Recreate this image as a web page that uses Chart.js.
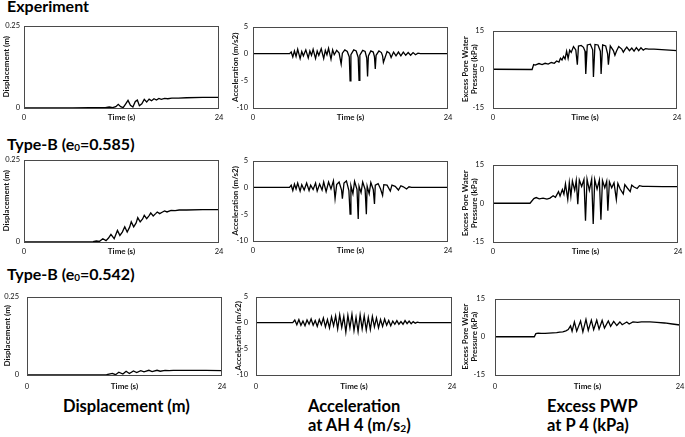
<!DOCTYPE html>
<html>
<head>
<meta charset="utf-8">
<script src="https://cdn.jsdelivr.net/npm/chart.js@4.4.1/dist/chart.umd.min.js"></script>
<style>
  html, body { margin: 0; padding: 0; background: #fff; }
  body { width: 685px; height: 437px; position: relative; overflow: hidden; font-family: Lato, "Open Sans", sans-serif; }
  canvas { position: absolute; }
  .lbl { position: absolute; font-weight: bold; color: #000; white-space: nowrap; }
  .row { font-size: 16px; line-height: 20px; left: 7px; }
  .col { font-size: 16.5px; line-height: 19px; }
  sub { font-size: 62%; vertical-align: -0.12em; line-height: 0; }
</style>
</head>
<body>
<div class="lbl row" style="top:-4px">Experiment</div>
<div class="lbl row" style="top:134px">Type-B (e<sub>0</sub>=0.585)</div>
<div class="lbl row" style="top:264px">Type-B (e<sub>0</sub>=0.542)</div>
<div class="lbl col" style="top:397px; left:63px">Displacement (m)</div>
<div class="lbl col" style="top:397px; left:308px">Acceleration<br>at AH 4 (m/s<sub>2</sub>)</div>
<div class="lbl col" style="top:397px; left:547px">Excess PWP<br>at P 4 (kPa)</div>

<script>
// tick values
var timeTicks = [0, 12, 24];
var dispTicks = [0, 0.25];
var accTicks = [-10, -5, 0, 5];
var pwpTicks = [-15, 0, 15];

// Experiment
var expDispTime = [0, 6, 8, 10, 10.5, 10.9, 11.3, 11.6, 11.9, 12.2, 12.5, 12.8, 13.1, 13.4, 13.7, 13.95, 14.2, 14.5, 14.8, 15.1, 15.4, 15.7, 16.0, 16.3, 16.6, 16.9, 17.3, 17.7, 18.2, 19, 20, 22, 24];
var expDisp = [0, 0, 0.001, 0.001, 0.003, 0.001, 0.004, 0.011, 0.004, 0.001, 0.012, 0.023, 0.008, 0.003, 0.020, 0.024, 0.007, 0.013, 0.026, 0.018, 0.027, 0.022, 0.028, 0.024, 0.029, 0.026, 0.029, 0.028, 0.030, 0.030, 0.031, 0.032, 0.032];

var expAccTime = [0, 4.5, 4.7, 4.9, 5.1, 5.3, 5.5, 5.8, 6.0, 6.2, 6.5, 6.8, 7.0, 7.2, 7.4, 7.7, 7.9, 8.1, 8.4, 8.7, 8.9, 9.1, 9.3, 9.6, 9.8, 10.0, 10.3, 10.6, 10.85, 11.0, 11.3, 11.6, 11.85, 11.95, 12.05, 12.4, 12.7, 12.95, 13.05, 13.15, 13.5, 13.8, 14.0, 14.1, 14.2, 14.5, 14.8, 14.95, 15.05, 15.15, 15.5, 15.8, 15.95, 16.05, 16.5, 16.8, 17.0, 17.3, 17.6, 17.9, 18.2, 18.5, 18.8, 19.1, 19.4, 19.7, 20.0, 20.3, 20.6, 24];
var expAcc = [0, 0, 0.3, -0.6, 0.5, -0.5, 0.8, -0.9, 0.4, -0.4, 0.7, -0.8, 0.5, -0.3, 0.8, -0.9, 0.5, -0.3, 0.9, -0.9, 0.6, -0.2, 1.0, -1.0, 0.7, -0.2, 0.6, 0.1, -1.9, 0.1, 0.7, 0.4, -0.6, -5.0, -0.2, 0.7, 0.5, -0.7, -4.9, -0.3, 0.6, 0.4, -0.8, -4.2, -0.4, 0.5, 0.3, -0.6, -2.8, -0.3, 0.5, 0.2, -0.4, -1.6, 0.4, 0.1, -0.7, 0.3, -0.4, 0.3, -0.4, 0.3, -0.3, 0.2, -0.3, 0.2, -0.2, 0.1, 0, 0];

var expPwpTime = [0, 5.1, 5.3, 5.5, 6.0, 6.4, 6.8, 7.2, 7.6, 8.0, 8.3, 8.6, 8.8, 9.0, 9.2, 9.4, 9.6, 9.8, 10.0, 10.2, 10.5, 10.8, 11.0, 11.15, 11.5, 11.8, 12.0, 12.1, 12.3, 12.7, 13.0, 13.1, 13.3, 13.7, 14.0, 14.1, 14.3, 14.7, 14.95, 15.05, 15.3, 15.7, 15.9, 16.1, 16.4, 16.8, 17.0, 17.2, 17.45, 17.8, 18.1, 18.4, 18.7, 19.0, 19.3, 19.6, 19.9, 20.3, 21, 22, 23, 24];
var expPwp = [0, -0.1, 1.8, 1.6, 2.2, 1.8, 2.3, 2.0, 2.6, 2.3, 3.2, 2.8, 4.3, 3.6, 5.0, 4.0, 7.0, 4.2, 7.4, 6.5, 8.8, 7.5, 1.8, 9.0, 9.2, 8.5, 7.0, -1.8, 9.4, 9.7, 7.5, -3.0, 9.6, 9.4, 7.0, -1.8, 9.4, 9.0, 6.0, 1.8, 9.0, 7.2, 5.4, 7.0, 8.8, 7.8, 6.6, 7.6, 8.6, 7.2, 8.2, 7.0, 8.4, 7.2, 8.3, 7.4, 8.0, 7.8, 7.8, 7.6, 7.4, 7.2];

// Type-B e0=0.585
var b585DispTime = [0, 7.5, 8.5, 8.9, 9.3, 9.7, 10.1, 10.4, 10.7, 11.1, 11.5, 11.8, 12.1, 12.4, 12.7, 13.0, 13.2, 13.5, 13.8, 14.0, 14.3, 14.6, 14.8, 15.1, 15.4, 15.6, 15.9, 16.2, 16.4, 16.7, 17.0, 17.3, 17.6, 18.1, 18.6, 19.1, 20, 22, 24];
var b585Disp = [0, 0, 0.001, 0.003, 0.002, 0.010, 0.004, 0.012, 0.023, 0.010, 0.035, 0.020, 0.030, 0.046, 0.030, 0.045, 0.061, 0.046, 0.058, 0.074, 0.061, 0.070, 0.081, 0.071, 0.080, 0.088, 0.079, 0.086, 0.091, 0.086, 0.090, 0.094, 0.091, 0.096, 0.095, 0.097, 0.097, 0.098, 0.098];

var b585AccTime = [0, 4.5, 4.7, 4.9, 5.1, 5.3, 5.5, 5.8, 6.0, 6.3, 6.6, 6.9, 7.1, 7.4, 7.7, 7.9, 8.2, 8.5, 8.7, 9.0, 9.3, 9.6, 9.9, 10.1, 10.3, 10.6, 10.9, 11.0, 11.2, 11.5, 11.8, 11.95, 12.05, 12.3, 12.5, 12.8, 12.95, 13.05, 13.3, 13.5, 13.8, 13.95, 14.05, 14.3, 14.5, 14.8, 14.95, 15.05, 15.4, 15.7, 15.95, 16.1, 16.5, 16.9, 17.1, 17.5, 17.9, 18.2, 18.5, 18.9, 19.2, 19.5, 24];
var b585Acc = [0, 0, 0.4, -0.6, 0.6, -0.3, 0.8, -0.7, 0.5, -0.5, 0.8, -0.6, 0.4, -0.4, 0.8, -0.7, 0.6, -0.5, 1.0, -0.8, 1.0, -0.3, 1.2, -2.1, 0.5, 1.0, -0.5, -2.1, 0.8, 1.2, -0.6, -5.0, 0.3, -1.2, 1.1, -0.4, -5.9, 0.2, -1.0, 1.0, -0.4, -5.0, 0.2, -1.2, 0.9, -0.4, -3.1, 0.4, 0.7, -0.3, -1.5, 0.5, 0.4, -0.7, 0.4, 0.2, -0.5, 0.3, 0.1, -0.3, 0.1, 0, 0];

var b585PwpTime = [0, 4.8, 5.3, 5.6, 6.0, 6.5, 7.0, 7.4, 7.8, 8.1, 8.5, 8.7, 9.0, 9.2, 9.4, 9.7, 9.9, 10.1, 10.3, 10.6, 10.8, 11.0, 11.2, 11.5, 11.8, 12.0, 12.2, 12.5, 12.8, 13.0, 13.2, 13.5, 13.8, 14.0, 14.2, 14.5, 14.75, 14.9, 15.1, 15.4, 15.7, 16.0, 16.2, 16.5, 16.9, 17.1, 17.4, 17.8, 18.0, 18.3, 18.7, 19.0, 19.4, 20, 22, 24];
var b585Pwp = [0, 0, 1.8, 2.2, 1.7, 2.0, 1.6, 2.0, 2.9, 2.3, 4.5, 2.8, 5.3, 3.5, 7.5, 1.5, 8.0, 2.7, 8.6, 5.0, 8.8, -0.4, 9.0, 6.5, 9.2, -6.8, 9.3, 5.0, 9.3, -8.0, 9.2, 5.5, 9.0, -6.4, 8.8, 6.0, 8.5, -2.9, 8.3, 6.0, 7.9, 1.5, 7.7, 5.5, 3.6, 7.2, 6.0, 4.5, 7.0, 6.3, 5.7, 6.8, 6.5, 6.5, 6.4, 6.4];

// Type-B e0=0.542
var b542DispTime = [0, 9.0, 9.8, 10.5, 10.9, 11.3, 11.8, 12.2, 12.6, 13.1, 13.5, 14.0, 14.4, 15.0, 15.4, 16.0, 16.4, 17.0, 17.5, 18, 20, 22, 24];
var b542Disp = [0, 0, 0.001, 0.005, 0.001, 0.009, 0.003, 0.012, 0.005, 0.013, 0.008, 0.014, 0.010, 0.015, 0.011, 0.015, 0.012, 0.015, 0.014, 0.015, 0.015, 0.015, 0.014];

var b542AccTime = [0, 4.5, 4.75, 5, 5.25, 5.5, 5.75, 6, 6.25, 6.5, 6.75, 7, 7.25, 7.5, 7.75, 8, 8.25, 8.5, 8.75, 9, 9.25, 9.5, 9.75, 10, 10.25, 10.5, 10.75, 11, 11.25, 11.5, 11.75, 12, 12.25, 12.5, 12.75, 13, 13.25, 13.5, 13.75, 14, 14.25, 14.5, 14.75, 15, 15.25, 15.5, 15.75, 16, 16.25, 16.5, 16.75, 17, 17.25, 17.5, 17.75, 18, 18.25, 18.5, 18.75, 19, 19.25, 19.5, 19.75, 20, 24];
var b542Acc = [0, 0, 0.5, -0.4, 0.6, -0.5, 0.3, -0.6, 0.5, -0.3, 0.7, -0.5, 0.4, -0.7, 0.6, -0.4, 0.9, -0.8, 0.6, -1.0, 1.1, -0.6, 1.3, -1.2, 1.5, -0.9, 1.2, -1.8, 1.4, -1.0, 1.6, -1.5, 1.0, -1.7, 1.5, -1.2, 1.3, -1.4, 1.0, -1.3, 1.2, -0.8, 0.9, -1.0, 0.6, -0.7, 0.7, -0.5, 0.4, -0.6, 0.3, -0.3, 0.4, -0.3, 0.2, -0.3, 0.4, -0.2, 0.3, -0.2, 0.2, -0.1, 0.1, 0, 0];

var b542PwpTime = [0, 5.1, 5.3, 5.6, 6.0, 6.5, 7.0, 7.5, 8.0, 8.4, 8.8, 9.2, 9.5, 9.8, 10.0, 10.3, 10.6, 11.1, 11.4, 11.8, 12.1, 12.5, 12.8, 13.2, 13.5, 13.9, 14.2, 14.7, 15.0, 15.4, 15.8, 16.2, 16.5, 17.1, 17.4, 17.9, 18.5, 19.0, 20.1, 21, 22, 23, 24];
var b542Pwp = [0, 0, 1.2, 1.4, 1.3, 1.3, 1.4, 1.5, 1.6, 1.8, 1.9, 2.3, 2.8, 4.3, 2.2, 5.8, 2.2, 6.2, 1.9, 6.8, 2.5, 6.5, 2.8, 6.5, 3.0, 6.4, 3.4, 6.2, 4.1, 6.0, 4.4, 5.8, 4.7, 5.8, 5.0, 5.8, 5.6, 5.8, 5.8, 5.6, 5.4, 5.0, 4.6];

var kinds = {
    disp: { min: 0, max: 0.25, ticks: dispTicks, title: 'Displacement (m)' },
    acc: { min: -10, max: 5, ticks: accTicks, title: 'Acceleration (m/s2)' },
    pwp: { min: -15, max: 15, ticks: pwpTicks, title: ['Excess Pore Water', 'Pressure (kPa)'] }
};

// plot boxes [left, top, right, bottom] in page pixels
var cells = [
    { kind: 'disp', t: expDispTime, v: expDisp, box: [24, 25, 219, 108], yw: 24, tickPad: 4, xPad: 5, titleX: 6 },
    { kind: 'acc', t: expAccTime, v: expAcc, box: [253, 25, 448, 108], yw: 26, tickPad: 5, xPad: 5, titleX: 235.5 },
    { kind: 'pwp', t: expPwpTime, v: expPwp, box: [493, 25, 677, 108], yw: 34, tickPad: 9, xPad: 5, titleX: 465 },
    { kind: 'disp', t: b585DispTime, v: b585Disp, box: [24, 159, 219, 242], yw: 24, tickPad: 4, xPad: 5, titleX: 6.5 },
    { kind: 'acc', t: b585AccTime, v: b585Acc, box: [253, 159, 448, 241], yw: 26, tickPad: 5, xPad: 5, titleX: 235.5 },
    { kind: 'pwp', t: b585PwpTime, v: b585Pwp, box: [493, 159, 678, 242], yw: 34, tickPad: 9, xPad: 5, titleX: 465 },
    { kind: 'disp', t: b542DispTime, v: b542Disp, box: [27, 292, 222, 375], yw: 27, tickPad: 8, xPad: 7, titleX: 7 },
    { kind: 'acc', t: b542AccTime, v: b542Acc, box: [256, 292, 452, 375], yw: 26, tickPad: 8, xPad: 7, titleX: 238 },
    { kind: 'pwp', t: b542PwpTime, v: b542Pwp, box: [495, 292, 680, 375], yw: 34, tickPad: 10, xPad: 7, titleX: 465 }
];

// draws the box round the plot area
var framePlugin = {
    id: 'frame',
    afterDraw: function(chart) {
        var a = chart.chartArea, c = chart.ctx;
        c.save();
        c.strokeStyle = '#4a4a4a';
        c.lineWidth = 1;
        c.strokeRect(Math.round(a.left) + 0.5, Math.round(a.top) + 0.5, Math.round(a.right - a.left) - 1, Math.round(a.bottom - a.top) - 1);
        c.restore();
    }
};

function makeChart(cell) {
    var k = kinds[cell.kind];
    var padTop = 8, padRight = 12, xh = 20;
    var left = cell.box[0] - cell.yw;
    var top = cell.box[1] - padTop;
    var w = cell.box[2] + padRight - left;
    var h = cell.box[3] + xh - top;
    var cv = document.createElement('canvas');
    cv.width = w;
    cv.height = h;
    cv.style.left = left + 'px';
    cv.style.top = top + 'px';
    document.body.appendChild(cv);

    var titleSize = 8, titleLH = cell.kind === 'pwp' ? 1.15 : 1.2;
    var titlePad = Math.max(0, cell.titleX - left - titleSize * titleLH / 2);

    var points = cell.t.map(function(x, i) { return { x: x, y: cell.v[i] }; });

    return new Chart(cv.getContext('2d'), {
        type: 'line',
        data: {
            datasets: [{
                data: points,
                borderColor: '#000',
                borderWidth: 1.3,
                pointRadius: 0,
                fill: false,
                tension: 0
            }]
        },
        options: {
            responsive: false,
            animation: false,
            devicePixelRatio: 1,
            layout: { padding: { top: padTop, right: padRight, left: 0, bottom: 0 } },
            plugins: { legend: { display: false }, tooltip: { enabled: false } },
            scales: {
                x: {
                    type: 'linear',
                    min: 0,
                    max: 24,
                    grid: { display: false, drawTicks: false },
                    border: { display: false },
                    afterBuildTicks: function(scale) {
                        scale.ticks = timeTicks.map(function(v) { return { value: v }; });
                    },
                    afterFit: function(scale) { scale.height = xh; },
                    ticks: {
                        autoSkip: false,
                        maxRotation: 0,
                        padding: cell.xPad,
                        color: '#111',
                        font: function(ctx) {
                            var mid = ctx.tick && ctx.tick.value === 12;
                            return { size: mid ? 8 : 7.5, weight: mid ? 'bold' : 'normal' };
                        },
                        callback: function(value) { return value === 12 ? 'Time (s)' : String(value); }
                    }
                },
                y: {
                    type: 'linear',
                    min: k.min,
                    max: k.max,
                    grid: { display: false, drawTicks: false },
                    border: { display: false },
                    afterBuildTicks: function(scale) {
                        scale.ticks = k.ticks.map(function(v) { return { value: v }; });
                    },
                    afterFit: function(scale) { scale.width = cell.yw; },
                    ticks: {
                        padding: cell.tickPad,
                        color: '#111',
                        font: { size: 7.5 },
                        callback: function(value) { return String(value); }
                    },
                    title: {
                        display: true,
                        text: k.title,
                        color: '#111',
                        padding: { top: titlePad, bottom: 0 },
                        font: { size: titleSize, weight: 'bold', lineHeight: titleLH }
                    }
                }
            }
        },
        plugins: [framePlugin]
    });
}

function drawAll() {
    Chart.defaults.font.family = 'Lato, "Open Sans", sans-serif';
    cells.forEach(makeChart);
}

if (document.fonts && document.fonts.ready) {
    document.fonts.ready.then(drawAll);
} else {
    document.addEventListener('DOMContentLoaded', drawAll);
}
</script>
</body>
</html>
